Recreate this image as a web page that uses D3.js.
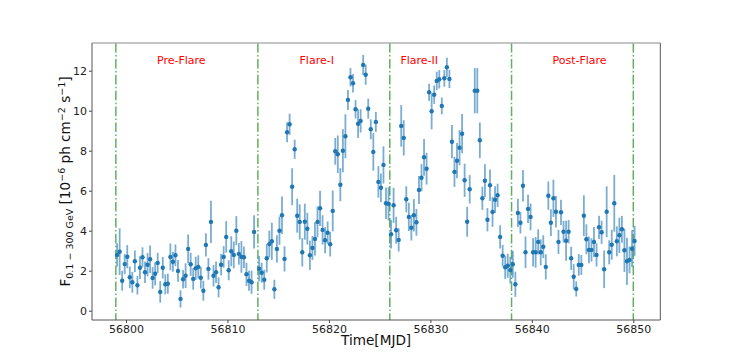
<!DOCTYPE html>
<html>
<head>
<meta charset="utf-8">
<script src="https://cdn.jsdelivr.net/npm/d3@7"></script>
<style>
  html, body { margin: 0; padding: 0; background: #fff; }
  svg { display: block; font-family: "DejaVu Sans", sans-serif; }
</style>
</head>
<body>
<svg id="chart" width="734" height="360"></svg>
<script>
// ---- data ----
const mjd = [
  56799.125,56799.375,56799.625,56799.875,
  56800.125,56800.375,56800.625,56800.875,
  56801.125,56801.375,56801.625,56801.875,
  56802.125,56802.375,56802.625,56802.875,
  56803.125,56803.375,56803.625,56803.875,
  56804.125,56804.375,56804.625,56804.875,
  56805.125,56805.375,56805.625,56805.875,
  56806.125,56806.375,56806.625,56806.875,
  56807.125,56807.375,56807.625,56807.875,
  56808.125,56808.375,56808.625,56808.875,
  56809.125,56809.375,56809.625,56809.875,
  56810.125,56810.375,56810.625,56810.875,
  56811.125,56811.375,56811.625,56811.875,
  56812.125,56812.375,56812.625,
  56813.125,56813.375,56813.625,56813.875,
  56814.125,56814.375,56814.625,56814.875,
  56815.125,56815.375,56815.625,56815.875,
  56816.125,56816.375,56816.625,56816.875,
  56817.125,56817.375,56817.625,56817.875,
  56818.125,56818.375,56818.625,56818.875,
  56819.125,56819.375,56819.625,56819.875,
  56820.125,56820.375,56820.625,56820.875,
  56821.125,56821.375,56821.625,56821.875,
  56822.125,56822.375,56822.625,56822.875,
  56823.125,56823.375,56823.625,56823.875,
  56824.125,56824.375,56824.625,56824.875,
  56825.125,56825.375,56825.625,56825.875,
  56826.125,56826.375,56826.625,56826.875,
  56827.125,56827.375,56827.625,56827.875,
  56828.125,56828.375,56828.625,56828.875,
  56829.125,56829.375,56829.625,56829.875,
  56830.125,56830.375,56830.625,56830.875,
  56831.125,56831.375,56831.625,56831.875,
  56832.125,56832.375,56832.625,56832.875,
  56833.125,56833.375,56833.625,56833.875,
  56834.375,56834.625,56834.875,
  56835.125,56835.375,56835.625,56835.875,
  56836.125,56836.375,56836.625,56836.875,
  56837.125,56837.375,56837.625,56837.875,
  56838.125,56838.375,56838.625,56838.875,
  56839.125,56839.375,56839.625,56839.875,
  56840.125,56840.375,56840.625,56840.875,
  56841.125,56841.375,56841.625,56841.875,
  56842.125,56842.375,56842.625,56842.875,
  56843.125,56843.375,56843.625,56843.875,
  56844.125,56844.375,56844.625,56844.875,
  56845.125,56845.375,56845.625,56845.875,
  56846.125,56846.375,56846.625,56846.875,
  56847.125,56847.375,56847.625,56847.875,
  56848.125,56848.375,56848.625,56848.875,
  56849.125,56849.375,56849.625,56849.875,
  56850.125
];
const flux = [
  // Pre-Flare
  2.79,2.95,1.5,2.33,2.7,1.67,1.42,2.47,1.27,2.15,2.67,1.92,2.3,2.57,1.64,1.85,2.39,0.94,2.15,1.32,
  1.35,2.69,2.45,2.77,1.99,0.59,1.57,1.75,3.09,2.32,1.59,2.12,2.19,1.65,1.0,3.29,2.09,4.44,1.75,1.92,
  1.17,2.3,2.69,3.69,2.02,2.97,2.79,4.0,2.84,2.69,2.67,1.82,1.5,1.42,3.94,
  // Flare-I
  2.1,1.9,1.55,2.62,3.33,3.47,1.07,3.09,4.0,4.77,2.59,8.92,9.32,6.2,8.07,4.75,4.44,2.92,4.45,4.1,
  2.77,3.14,3.59,4.44,5.12,4.04,3.52,3.9,3.32,4.99,7.97,7.82,6.3,8.0,8.72,10.54,11.67,11.37,10.07,9.35,
  9.49,12.29,11.8,10.1,9.07,7.94,9.44,6.44,6.15,7.29,5.37,5.34,
  // Flare-II
  3.82,5.27,4.02,3.54,9.24,8.64,5.57,4.69,4.15,4.77,4.42,6.04,6.65,7.67,7.1,10.92,9.97,10.8,11.49,11.57,
  10.24,11.62,12.17,11.59,8.45,6.94,7.5,8.15,8.85,6.52,4.45,6.07,11.0,11.0,8.52,5.62,6.5,4.55,6.27,4.94,
  5.55,5.77,3.69,2.75,2.17,2.25,2.03,
  // Post-Flare
  2.32,1.32,4.89,4.4,6.25,2.92,5.09,4.69,2.92,2.92,3.44,2.92,3.2,2.19,5.75,4.4,5.62,4.95,3.44,4.92,
  3.95,3.5,3.95,2.62,1.7,1.09,2.29,2.29,4.75,3.57,3.04,3.04,3.44,2.79,4.17,3.92,2.07,4.95,2.92,3.3,
  5.37,3.47,3.77,4.07,3.02,2.47,2.54,3.1,3.49
];
const fluxErr = [
  0.58,1.17,0.5,0.5,0.58,0.54,0.52,0.54,0.46,0.57,0.5,0.54,0.58,0.69,0.54,0.58,0.5,0.54,0.54,0.5,
  0.5,0.67,0.5,0.54,0.54,0.43,0.46,0.62,0.72,0.58,0.54,0.58,0.58,0.54,0.5,0.58,0.54,1.06,0.54,0.54,
  0.5,0.54,0.54,0.79,0.5,0.75,0.67,0.73,0.54,0.79,0.54,0.58,0.5,0.58,0.83,
  0.63,0.5,0.5,0.71,0.67,0.93,0.48,0.68,0.71,0.94,0.63,0.5,0.53,0.92,0.48,0.85,0.88,0.71,0.9,0.79,
  0.73,0.6,0.83,0.77,0.88,0.73,0.65,0.56,0.61,1.02,0.67,0.94,0.83,1.08,1.1,0.5,0.46,0.46,0.46,0.71,
  0.58,0.5,0.5,0.5,0.5,0.94,0.5,0.79,0.71,0.93,0.79,0.83,
  0.71,0.88,0.67,0.58,1.04,0.88,0.65,0.71,0.64,0.81,0.67,0.7,0.68,0.92,0.79,0.43,0.9,0.46,0.46,0.46,
  0.42,0.42,0.48,0.46,0.83,0.75,0.88,0.88,0.98,0.83,0.75,0.71,1.13,1.13,0.89,0.58,0.82,0.58,0.79,0.75,
  0.67,0.58,0.58,0.54,0.58,0.6,0.67,
  0.67,0.63,0.71,0.54,0.79,0.79,0.71,0.67,0.71,0.77,0.63,0.65,0.57,0.63,0.71,0.67,0.93,0.79,0.6,0.63,
  0.54,1.0,0.58,0.58,0.63,0.38,0.54,0.5,1.02,0.75,0.67,0.58,0.75,0.58,0.58,0.58,0.94,1.27,0.6,0.75,
  1.42,0.75,0.88,0.67,1.08,1.18,0.67,0.92,0.75
];
const boundaries = [56799, 56813, 56826, 56838, 56850];
const phaseNames = ["Pre-Flare", "Flare-I", "Flare-II", "Post-Flare"];
const phaseLabelX = [56805.45, 56818.8, 56828.9, 56844.7];
const xTicks = [56800, 56810, 56820, 56830, 56840, 56850];
const yTicks = [0, 2, 4, 6, 8, 10, 12];

// ---- layout ----
const L = 92, R = 660.3, T = 43, B = 320;
const svg = d3.select("#chart");
const x = d3.scaleLinear().domain([56796.65, 56852.66]).range([L, R]);
const y = d3.scaleLinear().domain([-0.465, 13.385]).range([B, T]);

const data = mjd.map((t, i) => ({ t, f: flux[i], e: fluxErr[i] }));

// boundaries
svg.append("g").selectAll("line").data(boundaries).join("line")
  .attr("x1", d => x(d)).attr("x2", d => x(d))
  .attr("y1", T).attr("y2", B)
  .attr("stroke", "#008000").attr("stroke-opacity", 0.62)
  .attr("stroke-width", 1.5)
  .attr("stroke-dasharray", "9.6,2.4,1.5,2.4");

// error bars
svg.append("g").selectAll("line").data(data).join("line")
  .attr("x1", d => x(d.t)).attr("x2", d => x(d.t))
  .attr("y1", d => y(d.f - d.e)).attr("y2", d => y(d.f + d.e))
  .attr("stroke", "#1f77b4").attr("stroke-opacity", 0.6)
  .attr("stroke-width", 1.8);

// markers
svg.append("g").selectAll("circle").data(data).join("circle")
  .attr("cx", d => x(d.t)).attr("cy", d => y(d.f))
  .attr("r", 2.2).attr("fill", "#1f77b4");

// phase labels
svg.append("g").selectAll("text").data(phaseNames).join("text")
  .attr("x", (d, i) => x(phaseLabelX[i])).attr("y", 64)
  .attr("text-anchor", "middle").attr("fill", "#ff0000")
  .attr("font-size", 11).text(d => d);

// axes
const xAxis = svg.append("g").attr("transform", `translate(0,${B})`)
  .call(d3.axisBottom(x).tickValues(xTicks).tickFormat(d3.format("d")).tickSize(3).tickPadding(2).tickSizeOuter(0));
const yAxis = svg.append("g").attr("transform", `translate(${L},0)`)
  .call(d3.axisLeft(y).tickValues(yTicks).tickSize(3).tickPadding(2).tickSizeOuter(0));
[xAxis, yAxis].forEach(g => {
  g.selectAll("text").attr("font-family", "DejaVu Sans").attr("font-size", 11).attr("fill", "#222");
  g.selectAll(".tick line").attr("stroke", "#444");
  g.select(".domain").remove();
});

// spines
svg.append("line").attr("x1", L).attr("x2", R).attr("y1", T).attr("y2", T)
  .attr("stroke", "#b0b0b0").attr("stroke-width", 1.3);
svg.append("line").attr("x1", L).attr("x2", R).attr("y1", B).attr("y2", B)
  .attr("stroke", "#555").attr("stroke-width", 1);
svg.append("line").attr("x1", L).attr("x2", L).attr("y1", T).attr("y2", B)
  .attr("stroke", "#555").attr("stroke-width", 1);
svg.append("line").attr("x1", R).attr("x2", R).attr("y1", T).attr("y2", B)
  .attr("stroke", "#555").attr("stroke-width", 1);

// axis labels
svg.append("text").attr("x", (L + R) / 2).attr("y", 345)
  .attr("text-anchor", "middle").attr("font-size", 13.6).attr("fill", "#111")
  .text("Time[MJD]");

const yl = svg.append("text")
  .attr("transform", `translate(70,${(T + B) / 2}) rotate(-90)`)
  .attr("text-anchor", "middle").attr("font-size", 13.6).attr("fill", "#111")
  .style("white-space", "pre");
yl.append("tspan").text("F");
yl.append("tspan").attr("font-size", 9.5).attr("dy", 3).text("0.1 \u2212 300 GeV");
yl.append("tspan").attr("dy", -3).text(" [10");
yl.append("tspan").attr("font-size", 9.5).attr("dy", -5.5).text("\u22126");
yl.append("tspan").attr("dy", 5.5).text(" ph cm");
yl.append("tspan").attr("font-size", 9.5).attr("dy", -5.5).text("\u22122");
yl.append("tspan").attr("dy", 5.5).text(" s");
yl.append("tspan").attr("font-size", 9.5).attr("dy", -5.5).text("\u22121");
yl.append("tspan").attr("dy", 5.5).text("]");
</script>
</body>
</html>
